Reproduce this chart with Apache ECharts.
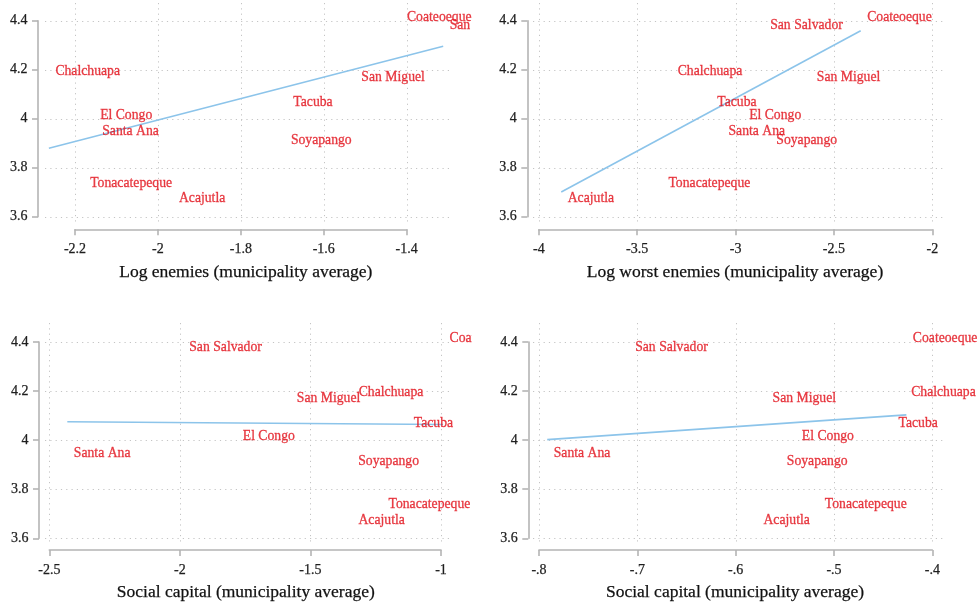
<!DOCTYPE html>
<html>
<head>
<meta charset="utf-8">
<script src="https://cdn.jsdelivr.net/npm/echarts@6/dist/echarts.min.js"></script>
<style>
  html, body { margin: 0; padding: 0; background: #fff; width: 977px; height: 606px; overflow: hidden; }
  .panel { position: absolute; overflow: hidden; }
</style>
</head>
<body>
<div id="p1" class="panel" style="left:0;top:0;width:472px;height:300px"></div>
<div id="p2" class="panel" style="left:472px;top:0;width:505px;height:300px"></div>
<div id="p3" class="panel" style="left:0;top:300px;width:472px;height:306px"></div>
<div id="p4" class="panel" style="left:472px;top:300px;width:505px;height:306px"></div>
<script>
// Municipalities and the outcome (same in every panel)
const municipalities = ['Coateoeque', 'San Salvador', 'Chalchuapa', 'San Miguel', 'Tacuba',
  'El Congo', 'Santa Ana', 'Soyapango', 'Tonacatepeque', 'Acajutla'];
const outcome = [4.420, 4.386, 4.201, 4.176, 4.073, 4.020, 3.954, 3.918, 3.743, 3.680];

// Municipality averages of each predictor
const logEnemies      = [-1.415, -1.312, -2.263, -1.525, -1.689, -2.155, -2.150, -1.695, -2.179, -1.965];
const logWorstEnemies = [-2.364, -2.857, -3.327, -2.620, -3.126, -2.964, -3.069, -2.826, -3.374, -3.886];
const socialCapital1  = [-0.992, -1.989, -1.340, -1.577, -1.129, -1.784, -2.431, -1.342, -1.226, -1.341];
const socialCapital2  = [-0.4264, -0.7088, -0.4281, -0.5691, -0.4410, -0.5393, -0.7916, -0.5546, -0.5159, -0.5783];

// Linear fit endpoints
const fitEnemiesX = [-2.263, -1.312],  fitEnemiesY = [3.879, 4.296];
const fitWorstX   = [-3.886, -2.364],  fitWorstY   = [3.701, 4.359];
const fitSocial1X = [-2.431, -0.992],  fitSocial1Y = [4.075, 4.064];
const fitSocial2X = [-0.7916, -0.4264], fitSocial2Y = [4.002, 4.103];

// Tick values
const yTicks  = [3.6, 3.8, 4, 4.2, 4.4];
const xTicks1 = [-2.2, -2, -1.8, -1.6, -1.4];
const xTicks2 = [-4, -3.5, -3, -2.5, -2];
const xTicks3 = [-2.5, -2, -1.5, -1];
const xTicks4 = [-0.8, -0.7, -0.6, -0.5, -0.4];

const titles = [
  'Log enemies (municipality average)',
  'Log worst enemies (municipality average)',
  'Social capital (municipality average)',
  'Social capital (municipality average)'
];

const SERIF = '"Liberation Serif", "Times New Roman", serif';
const LABEL_RED = '#e2101a';
const FIT_BLUE = '#8cc4ea';
const AXIS_GREY = '#b4b4b4';
const GRID_GREY = '#c4c4c4';
const TEXT_DARK = '#1e1e1e';

function fmt(v) {
  const s = String(+(+v).toFixed(3));
  return s.replace(/^(-?)0\./, '$1.');
}

// Layout of each panel (pixels inside its own container)
const panels = [
  { id: 'p1', x: logEnemies, xTicks: xTicks1, fitX: fitEnemiesX, fitY: fitEnemiesY, title: titles[0],
    axisLeft: 75, axisRight: 406.7, axisTop: 20.7, axisBottom: 216.7, yLineX: 38, xLineY: 229.3,
    region: [45, 453, 3, 223], titleAt: [245.8, 272] },
  { id: 'p2', x: logWorstEnemies, xTicks: xTicks2, fitX: fitWorstX, fitY: fitWorstY, title: titles[1],
    axisLeft: 66.8, axisRight: 460.3, axisTop: 20.7, axisBottom: 216.7, yLineX: 55.3, xLineY: 229.3,
    region: [61, 471, 3, 223], titleAt: [263, 272] },
  { id: 'p3', x: socialCapital1, xTicks: xTicks3, fitX: fitSocial1X, fitY: fitSocial1Y, title: titles[2],
    axisLeft: 49.3, axisRight: 441, axisTop: 42, axisBottom: 238.3, yLineX: 39, xLineY: 250,
    region: [45, 452, 23, 245], titleAt: [245.8, 292.3] },
  { id: 'p4', x: socialCapital2, xTicks: xTicks4, fitX: fitSocial2X, fitY: fitSocial2Y, title: titles[3],
    axisLeft: 67, axisRight: 460.3, axisTop: 42, axisBottom: 238.3, yLineX: 56.3, xLineY: 250,
    region: [61, 471, 23, 245], titleAt: [263, 292.3] }
];

panels.forEach(function (p) {
  const chart = echarts.init(document.getElementById(p.id), null, { renderer: 'canvas' });
  const xt = p.xTicks;
  const axisCommon = {
    type: 'value',
    axisLine: { show: true, onZero: false, lineStyle: { color: AXIS_GREY, width: 1.6 } },
    axisTick: { show: true, inside: false, length: 6, lineStyle: { color: AXIS_GREY, width: 1.6 } },
    splitLine: { show: false },
    axisLabel: { color: TEXT_DARK, fontFamily: SERIF, fontSize: 14, formatter: fmt,
      textBorderColor: TEXT_DARK, textBorderWidth: 0.25, showMinLabel: true, showMaxLabel: true }
  };
  const option = {
    animation: false,
    grid: {
      left: p.axisLeft, top: p.axisTop,
      width: p.axisRight - p.axisLeft, height: p.axisBottom - p.axisTop,
      containLabel: false
    },
    xAxis: Object.assign({}, axisCommon, {
      min: xt[0], max: xt[xt.length - 1], interval: xt[1] - xt[0],
      offset: p.xLineY - p.axisBottom,
      axisLabel: Object.assign({}, axisCommon.axisLabel, { margin: 13.5 })
    }),
    yAxis: Object.assign({}, axisCommon, {
      min: yTicks[0], max: yTicks[yTicks.length - 1], interval: 0.2,
      offset: p.axisLeft - p.yLineX,
      axisLabel: Object.assign({}, axisCommon.axisLabel, { margin: 10.5 })
    }),
    series: [
      {
        // fitted line, drawn through the axis scales and allowed past the tick range
        type: 'custom',
        clip: false, silent: true, z: 2,
        data: [[p.fitX[0], p.fitY[0], p.fitX[1], p.fitY[1]]],
        encode: { x: [0, 2], y: [1, 3] },
        renderItem: function (params, api) {
          const a = api.coord([api.value(0), api.value(1)]);
          const b = api.coord([api.value(2), api.value(3)]);
          return {
            type: 'line',
            shape: { x1: a[0], y1: a[1], x2: b[0], y2: b[1] },
            style: { stroke: FIT_BLUE, lineWidth: 1.6, fill: null }
          };
        }
      },
      {
        type: 'scatter',
        data: p.x.map(function (v, i) { return { name: municipalities[i], value: [v, outcome[i]] }; }),
        symbol: 'circle', symbolSize: 0, clip: false, silent: true, z: 3,
        itemStyle: { color: 'rgba(0,0,0,0)' },
        label: {
          show: true, position: 'right', distance: 6.5, offset: [0, 1.5], formatter: '{b}',
          color: LABEL_RED, fontFamily: SERIF, fontSize: 13.7,
          textBorderColor: LABEL_RED, textBorderWidth: 0.3
        }
      }
    ]
  };
  chart.setOption(option);

  // Dotted grid lines across the plot region, placed at the axis ticks
  const r = p.region;
  const els = [];
  xt.forEach(function (v) {
    const px = Math.round(chart.convertToPixel({ gridIndex: 0 }, [v, yTicks[0]])[0]) + 0.5;
    els.push({ type: 'line', z: 0, silent: true,
      shape: { x1: px, y1: r[2], x2: px, y2: r[3] },
      style: { stroke: GRID_GREY, lineWidth: 1, lineDash: [1.2, 4.1] } });
  });
  yTicks.forEach(function (v) {
    const py = Math.round(chart.convertToPixel({ gridIndex: 0 }, [xt[0], v])[1]) + 0.5;
    els.push({ type: 'line', z: 0, silent: true,
      shape: { x1: r[0], y1: py, x2: r[1], y2: py },
      style: { stroke: GRID_GREY, lineWidth: 1, lineDash: [1.2, 4.1] } });
  });
  els.push({ type: 'text', z: 5, silent: true, x: p.titleAt[0], y: p.titleAt[1],
    style: { text: p.title, fill: '#111', font: '17.5px ' + SERIF, textAlign: 'center',
      textVerticalAlign: 'middle', stroke: '#111', lineWidth: 0.25 } });
  chart.setOption({ graphic: { elements: els } });
});
</script>
</body>
</html>
